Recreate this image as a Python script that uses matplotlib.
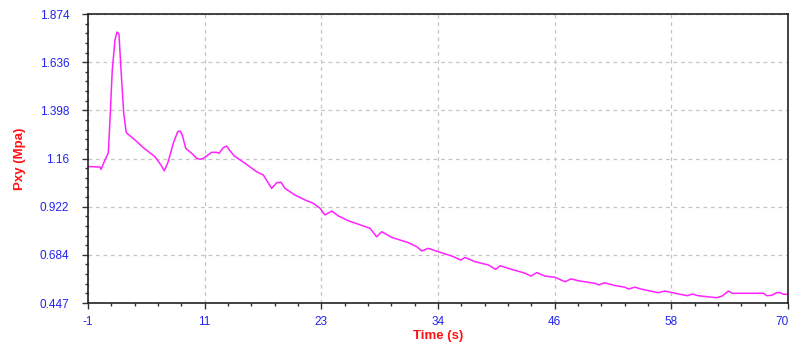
import matplotlib
matplotlib.use("Agg")
import matplotlib.pyplot as plt
import matplotlib.transforms as mtransforms
import numpy as np
from matplotlib.ticker import AutoMinorLocator, FixedLocator

time_s = [-1.0, 0.22, 0.32, 0.72, 1.06, 1.23, 1.46, 1.74, 1.94, 2.14, 2.35, 2.62, 2.88,
          3.77, 4.61, 5.80, 6.40, 6.74, 7.14, 7.65, 8.10, 8.36, 8.56, 8.91, 9.52, 10.03,
          10.36, 10.69, 11.55, 12.05, 12.29, 12.72, 13.07, 13.33, 13.84, 14.92, 16.11,
          16.78, 17.63, 18.14, 18.58, 18.98, 19.99, 21.01, 21.85, 22.53, 23.04, 23.72,
          24.39, 25.40, 26.42, 27.60, 28.28, 28.79, 29.80, 31.49, 32.34, 32.85, 33.52,
          34.53, 35.89, 36.83, 37.24, 38.25, 39.60, 40.35, 40.79, 41.98, 43.33, 43.93,
          44.51, 45.35, 46.37, 47.38, 47.99, 48.73, 50.42, 50.83, 51.37, 52.45, 53.47,
          53.80, 54.48, 55.16, 56.84, 57.52, 59.05, 59.83, 60.29, 60.90, 62.77, 63.34,
          63.95, 64.35, 67.50, 67.84, 68.35, 68.86, 69.19, 69.53, 70.0]
pxy_mpa = [1.121, 1.118, 1.107, 1.153, 1.188, 1.351, 1.597, 1.746, 1.785, 1.775, 1.597,
           1.385, 1.288, 1.252, 1.214, 1.169, 1.128, 1.100, 1.145, 1.236, 1.293, 1.296,
           1.277, 1.211, 1.186, 1.161, 1.157, 1.161, 1.191, 1.191, 1.186, 1.214, 1.222,
           1.203, 1.173, 1.137, 1.095, 1.079, 1.013, 1.041, 1.043, 1.013, 0.980, 0.956,
           0.939, 0.915, 0.882, 0.901, 0.877, 0.853, 0.836, 0.816, 0.774, 0.799, 0.771,
           0.745, 0.725, 0.704, 0.717, 0.700, 0.679, 0.659, 0.672, 0.651, 0.635, 0.613,
           0.631, 0.613, 0.594, 0.580, 0.597, 0.580, 0.574, 0.552, 0.566, 0.557, 0.544,
           0.536, 0.547, 0.533, 0.525, 0.516, 0.525, 0.515, 0.498, 0.506, 0.490, 0.483,
           0.491, 0.483, 0.473, 0.482, 0.506, 0.495, 0.495, 0.483, 0.485, 0.498, 0.498,
           0.490, 0.490]

x_tick_labels = ["-1", "11", "23", "34", "46", "58", "70"]
y_tick_labels = ["0.447", "0.684", "0.922", "1.16", "1.398", "1.636", "1.874"]
x_min, x_max = -1.0, 70.0
y_min, y_max = 0.447, 1.874

plt.rcParams['font.family'] = ['Liberation Sans', 'DejaVu Sans']

fig = plt.figure(figsize=(7.92, 3.43), dpi=100)
ax = fig.add_axes([88/792, 40/343, 700/792, 289/343])

ax.plot(time_s, pxy_mpa, color='#ff22ff', lw=1.1)

ax.set_xlim(x_min, x_max)
ax.set_ylim(y_min, y_max)
ax.xaxis.set_major_locator(FixedLocator(np.linspace(x_min, x_max, len(x_tick_labels))))
ax.yaxis.set_major_locator(FixedLocator(np.linspace(y_min, y_max, len(y_tick_labels))))
ax.set_xticklabels(x_tick_labels)
ax.set_yticklabels(y_tick_labels)
ax.xaxis.set_minor_locator(AutoMinorLocator(5))
ax.yaxis.set_minor_locator(AutoMinorLocator(5))

ax.tick_params(axis='both', which='major', direction='out', length=4.5, width=1,
               color='#333333', labelcolor='#2222ee', labelsize=8.5)
ax.tick_params(axis='both', which='minor', direction='out', length=2.5, width=1,
               color='#333333')
ax.tick_params(axis='y', which='major', pad=9)
ax.tick_params(axis='x', which='major', pad=5)
ax.tick_params(top=False, right=False, which='both')

# keep the last x label inside the canvas
last = ax.get_xticklabels()[-1]
last.set_transform(last.get_transform() +
                   mtransforms.ScaledTranslation(-4/72, 0, fig.dpi_scale_trans))

for s in ax.spines.values():
    s.set_color('#222222')
    s.set_linewidth(1.2)

ax.grid(True, which='major', color='#c4c4c4', linestyle=(0, (3, 3)), lw=0.9)

ax.set_xlabel('Time (s)', color='#ff1111', fontweight='bold', fontsize=9.5, labelpad=1)
ax.set_ylabel('Pxy (Mpa)', color='#ff1111', fontweight='bold', fontsize=9.5, labelpad=10)

fig.savefig('out.png', dpi=100)
